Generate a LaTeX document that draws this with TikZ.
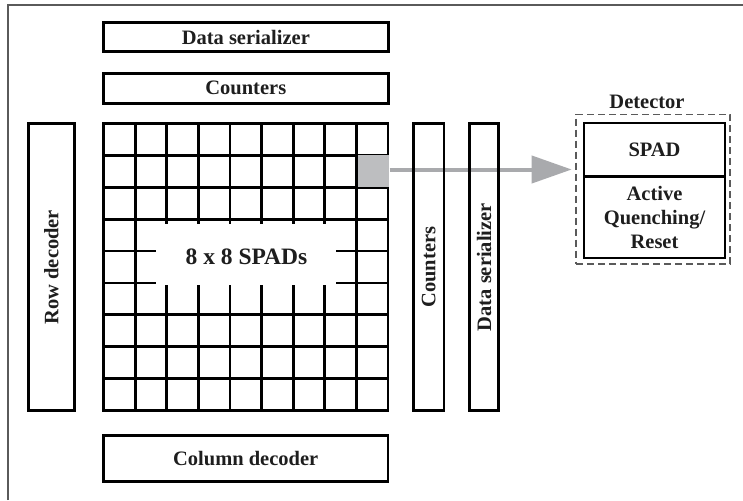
\documentclass[tikz,border=0pt]{standalone}
\usepackage{fontspec}
\setmainfont{Liberation Serif}
\usetikzlibrary{arrows.meta}
\definecolor{cellgray}{HTML}{BDBEC0}
\definecolor{arrgray}{HTML}{A9AAAD}
\definecolor{framegray}{HTML}{5A5A5A}
\definecolor{txt}{HTML}{1E1E1E}
\newcommand{\lbl}{\fontsize{20.5}{24}\selectfont\bfseries}
\newcommand{\biglbl}{\fontsize{23.5}{27}\selectfont\bfseries}
\begin{document}
\begin{tikzpicture}[x=1pt,y=-1pt,
  box/.style={draw=black, line width=2.8pt, inner sep=0pt, font=\lbl, text=txt},
  gline/.style={line width=2.8pt, draw=black},
  dashbox/.style={draw=framegray, line width=1.4pt, dash pattern=on 7pt off 4pt, inner sep=0pt},
  plain/.style={inner sep=0pt, font=\lbl, text=txt},
  arrowline/.style={draw=arrgray, line width=4pt, -{Triangle[length=40pt,width=27pt]}}
]
\useasboundingbox (0,0) rectangle (743,500);
% outer frame (only top and left visible)
\draw[framegray, line width=1.8pt] (8,500) -- (8,5) -- (743,5);

% top boxes
\node[box, minimum width=285pt, minimum height=29.4pt] (dstop) at (245.8,37) {Data serializer};
\node[box, minimum width=285pt, minimum height=30pt] (cnttop) at (245.8,88.3) {Counters};

% row decoder
\node[box, minimum width=286.7pt, minimum height=46pt, rotate=90] (rowdec) at (51.3,267.2) {Row decoder};

% grid
\node[box, minimum width=284.5pt, minimum height=287pt] (grid) at (245.75,267) {};
\foreach \i in {1,...,8} {
  \draw[gline] ({103.5+\i*31.61},123.5) -- ({103.5+\i*31.61},410.5);
  \draw[gline] (103.5,{123.5+\i*31.89}) -- (388,{123.5+\i*31.89});
}
% hole for label
\fill[white] (156,224) rectangle (336,285.3);
\node[plain, font=\biglbl] (spads) at (246.5,256.5) {8 x 8 SPADs};

% highlighted cell
\fill[cellgray] (357.6,154.8) rectangle (389.3,186.9);
\node[inner sep=0pt, minimum width=31.7pt, minimum height=32pt] (cell) at (373.45,170) {};

% arrow
\coordinate (arrend) at (571.7,169.5);
\draw[arrowline] (cell.east |- arrend) -- (arrend);

% right vertical boxes
\node[box, minimum width=286.7pt, minimum height=30.7pt, rotate=90] (cntr) at (428.7,267.2) {Counters};
\node[box, minimum width=286.7pt, minimum height=29pt, rotate=90] (dsr) at (484.2,267.2) {Data serializer};

% column decoder
\node[box, minimum width=284.7pt, minimum height=45.8pt] (coldec) at (245.7,458.4) {Column decoder};

% detector
\node[dashbox, minimum width=154pt, minimum height=149.7pt] (det) at (653,189.2) {};
\node[plain] (detlbl) at (647,101.5) {Detector};
\node[box, minimum width=141pt, minimum height=53.7pt] (spad) at (654.5,149.85) {SPAD};
\node[box, minimum width=141pt, minimum height=81.3pt, align=center] (aq) at (654.5,217.35) {Active\\Quenching/\\Reset};
\end{tikzpicture}
\end{document}
